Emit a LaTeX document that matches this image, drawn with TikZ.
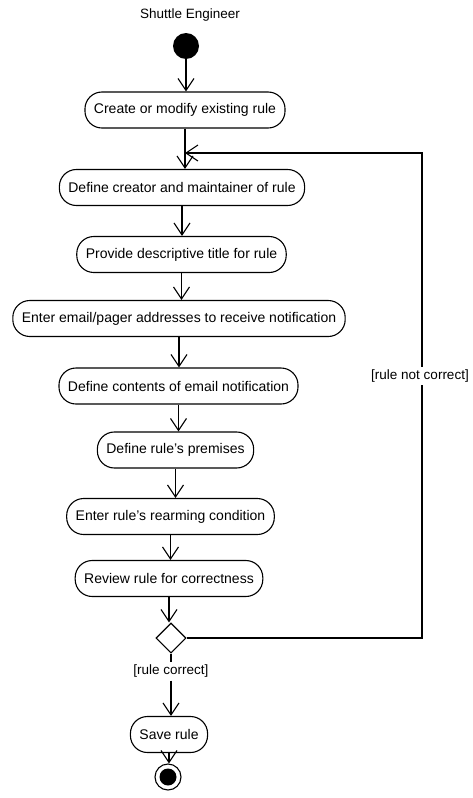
\documentclass[tikz,border=0pt]{standalone}
\usepackage{fontspec}
\setmainfont{Liberation Sans}
\usetikzlibrary{arrows.meta,shapes.geometric}
\newcommand{\apos}{{\char"0027}}
\begin{document}
\begin{tikzpicture}[x=1pt,y=-1pt,
  act/.style={draw, line width=1.1pt, rounded corners=17pt, minimum height=36pt, inner xsep=9pt, font=\fontsize{14}{16}\selectfont},
  flow/.style={line width=1.1pt, -{Straight Barb[length=12pt,width=16pt,line width=1.1pt]}},
  plain/.style={line width=1.1pt},
  lbl/.style={font=\fontsize{13.5}{15}\selectfont, fill=white, inner xsep=1pt, inner ysep=3pt}]
\useasboundingbox (0,0) rectangle (472,798);

\node[font=\fontsize{13.5}{15}\selectfont] (title) at (190,15) {Shuttle Engineer};
\node[circle, fill=black, minimum size=26pt, inner sep=0pt] (start) at (186,46) {};

\node[act] (a1) at (185,110) {Create or modify existing rule};
\node[act] (a2) at (182,187.5) {Define creator and maintainer of rule};
\node[act] (a3) at (181.5,254.5) {Provide descriptive title for rule};
\node[act] (a4) at (179,318.5) {Enter email/pager addresses to receive notification};
\node[act] (a5) at (178.5,386) {Define contents of email notification};
\node[act] (a6) at (175.5,450) {Define rule\apos s premises};
\node[act] (a7) at (170.5,516.5) {Enter rule\apos s rearming condition};
\node[act] (a8) at (169,578.5) {Review rule for correctness};
\node[diamond, draw, line width=1.1pt, minimum width=30pt, minimum height=30pt, inner sep=0pt] (dec) at (171,638) {};
\node[lbl] (guard) at (171,671) {[rule correct]};
\node[act] (save) at (169,734.5) {Save rule};
\node[circle, draw, line width=1.1pt, minimum size=26pt, inner sep=0pt] (end) at (168,777) {};
\fill (end.center) circle (8.5pt);

\draw[flow] (start.south) -- (start.south |- a1.north);
\draw[flow] (a1.south) -- (a1.south |- a2.north);
\draw[flow] (a2.south) -- (a2.south |- a3.north);
\draw[flow] (a3.south) -- (a3.south |- a4.north);
\draw[flow] (a4.south) -- (a4.south |- a5.north);
\draw[flow] (a5.south) -- (a5.south |- a6.north);
\draw[flow] (a6.south) -- (a6.south |- a7.north);
\draw[flow] (a7.south) -- (a7.south |- a8.north);
\draw[flow] (a8.south) -- (a8.south |- dec.north);
\draw[plain] (dec.south) -- (guard.north);
\draw[flow] (guard.south) -- (guard.south |- save.north);
\draw[flow] (save.south) -- (save.south |- end.north);

\coordinate (corner) at (422,153);
\coordinate (join) at (a1.south |- corner);
\draw[flow] (dec.east) -| (corner) -- (join);
\node[lbl] (notok) at (420,376) {[rule not correct]};
\end{tikzpicture}
\end{document}
